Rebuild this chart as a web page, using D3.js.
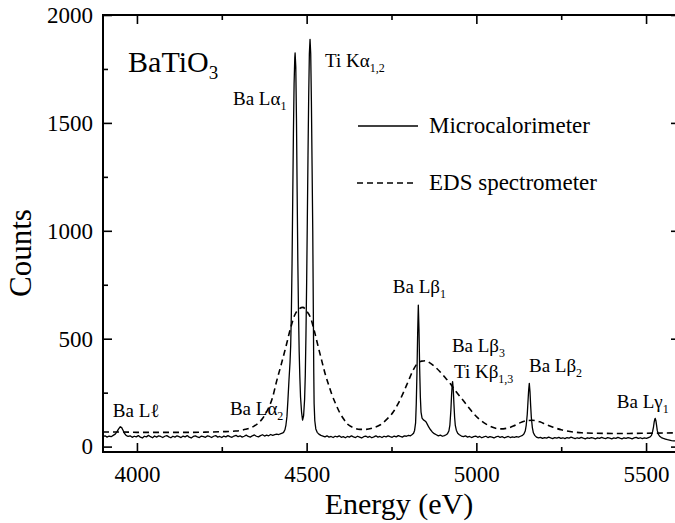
<!DOCTYPE html>
<html>
<head>
<meta charset="utf-8">
<script src="https://cdn.jsdelivr.net/npm/d3@7/dist/d3.min.js"></script>
<style>
  html, body { margin: 0; padding: 0; background: #fff; }
  svg { display: block; }
</style>
</head>
<body>
<div id="chart"></div>
<script>
// X-ray emission spectrum of BaTiO3: microcalorimeter vs EDS spectrometer

// Microcalorimeter spectrum (energy in eV, counts)
const microEnergy = [
  3900,3906,3912,3918,3924,3930,3936,3941,3946,3951,3955,3959,3963,3968,3974,
  3980,3986,3992,3998,4004,4010,4016,4022,4028,4034,4040,4046,4052,4058,4064,
  4070,4076,4082,4088,4094,4100,4106,4112,4118,4124,4130,4136,4142,4148,4154,
  4160,4166,4172,4178,4184,4190,4196,4202,4208,4214,4220,4226,4232,4238,4244,
  4250,4256,4262,4268,4274,4280,4286,4292,4298,4304,4310,4316,4322,4328,4334,
  4340,4346,4352,4358,4364,4370,4376,4382,4388,4394,4400,4406,4412,4418,4424,
  4428,4432,4436,4439,4442,4445,4448,4451,4453,4455,4457,4459,4461,4463,4465,
  4466,4468,4470,4472,4474,4476,4478,4480,4482,4485,4488,4491,4494,4496,4498,
  4500,4502,4504,4506,4508,4510,4512,4514,4516,4518,4519,4520,4521,4522,4524,
  4527,4531,4536,4542,4548,4554,4560,4566,4572,4578,4584,4590,4596,4602,4608,
  4614,4620,4626,4632,4638,4644,4650,4656,4662,4668,4674,4680,4686,4692,4698,
  4704,4710,4716,4722,4728,4734,4740,4746,4752,4758,4764,4770,4776,4782,4788,
  4794,4800,4806,4811,4815,4818,4821,4823,4825,4827,4829,4831,4833,4835,4837,
  4840,4844,4848,4852,4856,4860,4865,4870,4876,4882,4888,4894,4900,4906,4911,
  4915,4919,4922,4925,4927,4929,4930,4932,4934,4936,4938,4941,4945,4950,4956,
  4962,4968,4974,4980,4986,4992,4998,5004,5010,5016,5022,5028,5034,5040,5046,
  5052,5058,5064,5070,5076,5082,5088,5094,5100,5106,5112,5118,5124,5130,5136,
  5140,5144,5147,5150,5152,5154,5156,5158,5160,5162,5165,5168,5172,5177,5183,
  5189,5195,5201,5207,5213,5219,5225,5231,5237,5243,5249,5255,5261,5267,5273,
  5279,5285,5291,5297,5303,5309,5315,5321,5327,5333,5339,5345,5351,5357,5363,
  5369,5375,5381,5387,5393,5399,5405,5411,5417,5423,5429,5435,5441,5447,5453,
  5459,5465,5471,5477,5483,5489,5495,5501,5507,5512,5516,5519,5522,5524,5526,
  5527,5529,5531,5533,5536,5540,5545,5551,5557,5563,5569,5575,5581,5590,5600
];
const microCounts = [
  47,50,44,49,46,52,58,68,82,92,88,76,62,52,47,
  50,43,48,45,51,44,40,48,45,52,46,41,49,44,50,
  47,42,48,51,45,41,48,44,50,46,42,49,45,51,44,
  40,47,50,45,42,49,46,43,50,47,42,48,51,44,47,
  42,49,45,51,46,43,49,52,46,50,44,48,53,47,44,
  50,54,48,45,51,55,49,53,50,56,52,55,58,56,60,
  62,66,78,100,140,220,310,390,470,620,850,1150,1450,1680,1800,
  1824,1760,1520,1180,860,620,440,320,230,160,123,142,220,330,520,
  760,1050,1350,1620,1820,1887,1820,1600,1300,1000,780,560,340,200,120,
  82,66,58,52,49,45,50,44,47,42,48,45,50,43,46,
  41,47,44,50,45,42,48,44,40,46,49,43,47,41,45,
  50,44,47,42,48,45,50,46,43,49,45,51,47,44,50,
  48,52,50,56,62,75,110,200,340,520,656,540,360,230,160,
  132,124,120,114,102,90,78,68,60,55,50,53,48,51,55,
  60,72,100,170,240,290,301,265,195,135,98,76,62,55,49,
  46,50,44,47,42,46,49,43,47,41,45,48,42,46,44,
  40,45,48,43,46,41,44,47,42,45,43,46,44,48,52,
  58,72,100,150,205,260,293,255,190,135,88,64,52,44,40,
  43,38,42,39,44,40,37,42,39,43,38,41,37,42,39,
  44,40,37,41,38,43,39,36,41,38,42,39,36,41,38,
  43,39,37,42,39,36,40,38,43,39,36,41,38,42,39,
  36,40,43,38,41,37,40,38,42,45,52,68,92,115,128,
  131,120,98,75,58,48,42,38,35,32,30,28,27,26,25
];

// EDS spectrometer spectrum (energy in eV, counts)
const edsEnergy = [
  3900,3950,4000,4050,4100,4150,4200,4250,4290,4320,
  4345,4370,4385,4400,4411,4425,4440,4452,4465,4478,
  4489,4500,4512,4522,4534,4545,4554,4565,4573,4585,
  4595,4608,4620,4638,4657,4675,4696,4716,4735,4755,
  4770,4785,4800,4814,4826,4839,4851,4863,4878,4893,
  4908,4923,4940,4962,4978,4991,5010,5030,5050,5070,
  5090,5109,5128,5148,5165,5187,5206,5226,5250,5276,
  5310,5350,5400,5450,5500,5550,5600
];
const edsCounts = [
  68,68,66,66,66,66,67,69,72,80,
  95,130,170,230,300,380,470,545,610,638,
  645,628,595,540,463,395,340,285,247,200,
  165,130,105,88,80,80,87,100,125,160,
  200,250,305,355,385,396,398,388,370,347,
  320,292,255,212,180,155,125,103,88,82,
  85,95,110,120,122,115,102,90,78,70,
  64,62,61,61,62,63,64
];

// Axis ticks
const xTicks = [4000, 4250, 4500, 4750, 5000, 5250, 5500];
const xTickLabels = [4000, 4500, 5000, 5500];
const yTicks = [0, 250, 500, 750, 1000, 1250, 1500, 1750, 2000];
const yTickLabels = [0, 500, 1000, 1500, 2000];

// Line identifications: [main, subscript, energy anchor (eV), count anchor]
const lineNames = [
  ["Ba L\u2113", "", 3929, 137],
  ["Ba L\u03b1", "2", 4274, 146],
  ["Ba L\u03b1", "1", 4283, 1583],
  ["Ti K\u03b1", "1,2", 4554, 1759],
  ["Ba L\u03b2", "1", 4754, 712],
  ["Ba L\u03b2", "3", 4928, 438],
  ["Ti K\u03b2", "1,3", 4934, 318],
  ["Ba L\u03b2", "2", 5155, 346],
  ["Ba L\u03b3", "1", 5414, 179]
];

const FONT = '"Liberation Serif"';
const W = 675, H = 523;
const plotL = 103, plotR = 680, plotT = 15, plotB = 452;

const svg = d3.select("#chart").append("svg")
  .attr("width", W).attr("height", H)
  .attr("viewBox", `0 0 ${W} ${H}`);

const x = d3.scaleLinear().domain([3900, 5600]).range([plotL, plotR]);
const y = d3.scaleLinear().domain([-25, 2000]).range([plotB, plotT]);

svg.append("defs").append("clipPath").attr("id", "plot")
  .append("rect").attr("x", plotL).attr("y", plotT)
  .attr("width", plotR - plotL).attr("height", plotB - plotT);

// Spectra
const micro = microEnergy.map((e, i) => [e, microCounts[i]]);
const eds = edsEnergy.map((e, i) => [e, edsCounts[i]]);

const lineLin = d3.line().x(d => x(d[0])).y(d => y(d[1]));
const lineSmooth = d3.line().x(d => x(d[0])).y(d => y(d[1])).curve(d3.curveMonotoneX);

const g = svg.append("g").attr("clip-path", "url(#plot)");
g.append("path").datum(eds)
  .attr("d", lineSmooth)
  .attr("fill", "none").attr("stroke", "#000")
  .attr("stroke-width", 1.6).attr("stroke-dasharray", "6,4");
g.append("path").datum(micro)
  .attr("d", lineLin)
  .attr("fill", "none").attr("stroke", "#000")
  .attr("stroke-width", 1.3).attr("stroke-linejoin", "round");

// Axes (ticks point inward on all four sides)
const majorLen = 9, minorLen = 5;
function styleAxis(sel, majorSet, horizontal, sign) {
  sel.attr("font-family", null).attr("font-size", null);
  sel.select(".domain").remove();
  sel.selectAll(".tick line")
    .attr("stroke", "#000").attr("stroke-width", 1.6)
    .each(function (d) {
      const len = majorSet.includes(d) ? majorLen : minorLen;
      d3.select(this).attr(horizontal ? "y2" : "x2", sign * len);
    });
  sel.selectAll(".tick text")
    .style("font-family", FONT)
    .style("font-size", "23px")
    .attr("fill", "#000");
}

const xAxisB = svg.append("g").attr("transform", `translate(0,${plotB})`)
  .call(d3.axisBottom(x).tickValues(xTicks).tickSize(-majorLen).tickPadding(14)
    .tickFormat(d => xTickLabels.includes(d) ? d : ""));
styleAxis(xAxisB, xTickLabels, true, -1);

const xAxisT = svg.append("g").attr("transform", `translate(0,${plotT})`)
  .call(d3.axisTop(x).tickValues(xTicks).tickSize(-majorLen).tickFormat(""));
styleAxis(xAxisT, xTickLabels, true, 1);

const yAxisL = svg.append("g").attr("transform", `translate(${plotL},0)`)
  .call(d3.axisLeft(y).tickValues(yTicks).tickSize(-majorLen).tickPadding(10)
    .tickFormat(d => yTickLabels.includes(d) ? d : ""));
styleAxis(yAxisL, yTickLabels, false, 1);

const yAxisR = svg.append("g").attr("transform", `translate(${plotR},0)`)
  .call(d3.axisRight(y).tickValues(yTicks).tickSize(-majorLen).tickFormat(""));
styleAxis(yAxisR, yTickLabels, false, -1);

// Frame
svg.append("rect")
  .attr("x", plotL).attr("y", plotT)
  .attr("width", plotR - plotL).attr("height", plotB - plotT)
  .attr("fill", "none").attr("stroke", "#000").attr("stroke-width", 2);

function label(sel, size) {
  return sel.style("font-family", FONT).style("font-size", size + "px").attr("fill", "#000");
}

// Axis titles
label(svg.append("text"), 30)
  .attr("x", 399).attr("y", 514)
  .attr("text-anchor", "middle")
  .text("Energy (eV)");
label(svg.append("text"), 31)
  .attr("transform", "translate(31,253) rotate(-90)")
  .attr("text-anchor", "middle")
  .text("Counts");

// Compound name
const comp = label(svg.append("text"), 30)
  .attr("x", x(3974)).attr("y", y(1736));
comp.append("tspan").text("BaTiO");
comp.append("tspan").style("font-size", "19px").attr("dy", 7).text("3");

// Peak labels
lineNames.forEach(([main, sub, e, c]) => {
  const t = label(svg.append("text"), 19)
    .attr("x", x(e)).attr("y", y(c));
  t.append("tspan").text(main);
  if (sub) t.append("tspan").style("font-size", "12px").attr("dy", 5).text(sub);
});

// Legend
const legend = svg.append("g");
legend.append("line")
  .attr("x1", 358).attr("x2", 418).attr("y1", 126).attr("y2", 126)
  .attr("stroke", "#000").attr("stroke-width", 1.4);
label(legend.append("text"), 23).attr("x", 429).attr("y", 133)
  .text("Microcalorimeter");
legend.append("line")
  .attr("x1", 357).attr("x2", 415).attr("y1", 183).attr("y2", 183)
  .attr("stroke", "#000").attr("stroke-width", 1.6).attr("stroke-dasharray", "6,4");
label(legend.append("text"), 23).attr("x", 429).attr("y", 190)
  .text("EDS spectrometer");
</script>
</body>
</html>
